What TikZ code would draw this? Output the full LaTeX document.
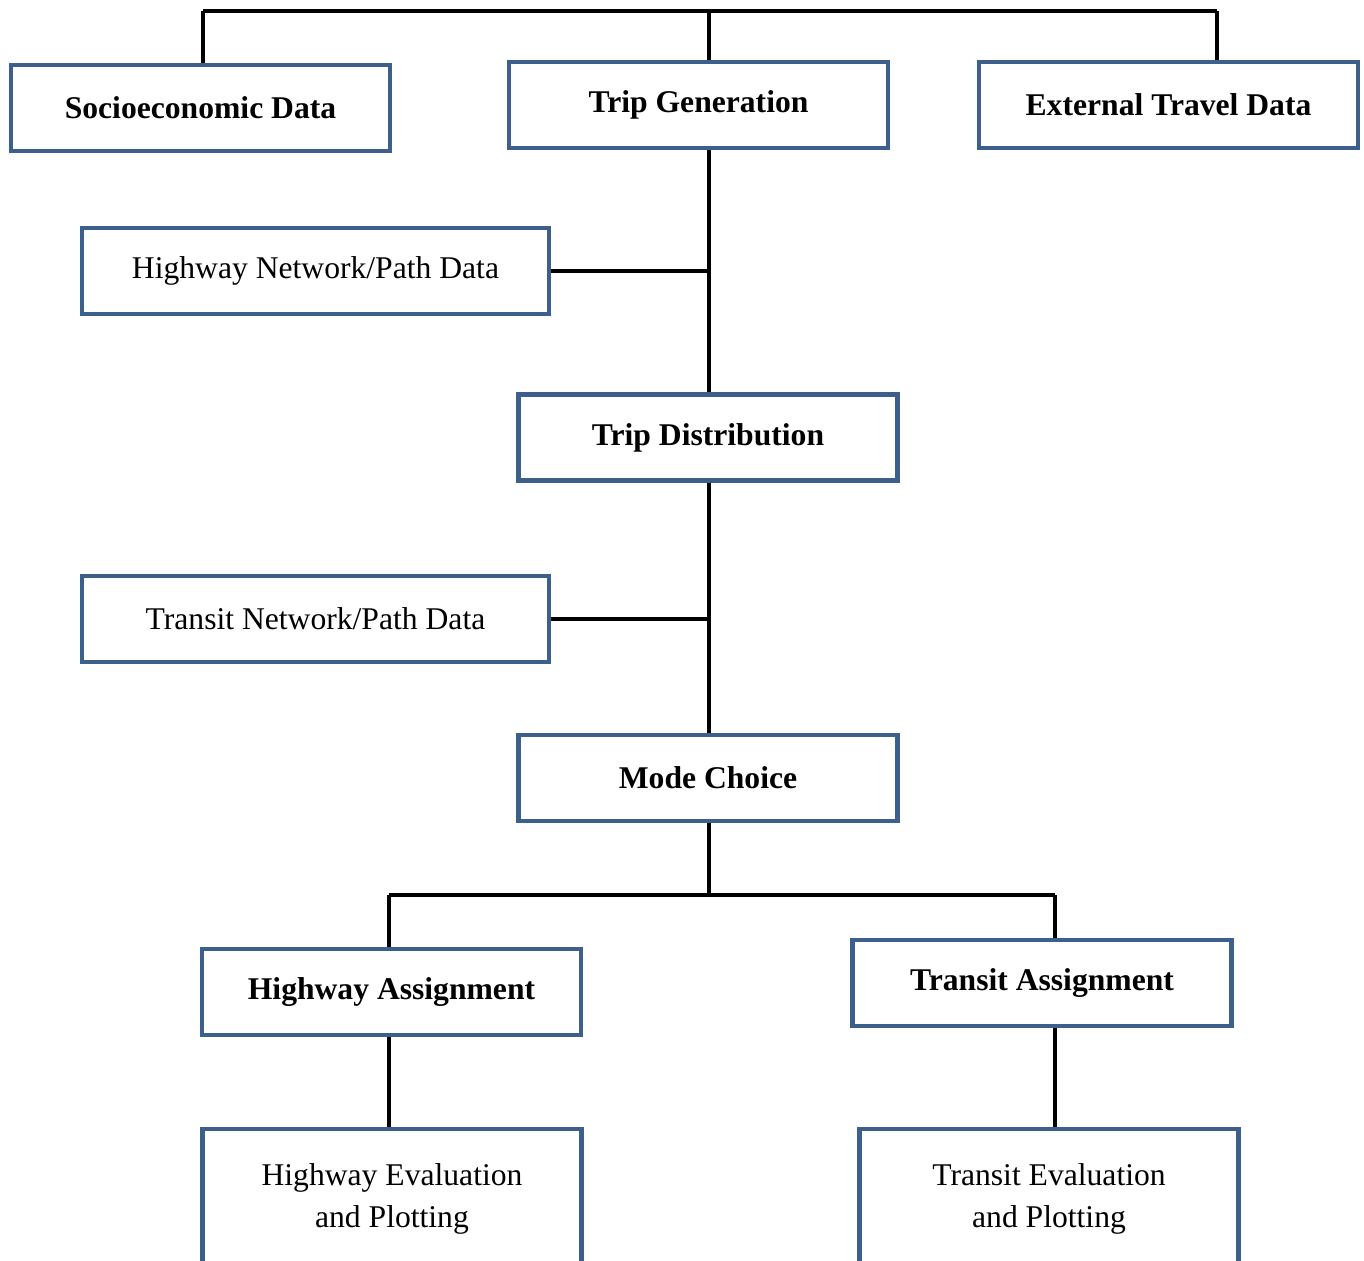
\documentclass[tikz,border=0pt]{standalone}
\usepackage{fontspec}
\setmainfont{Liberation Serif}
\usetikzlibrary{positioning,calc}
\definecolor{boxblue}{RGB}{60,95,140}

\begin{document}
\begin{tikzpicture}[
  x=0.02cm, y=-0.02cm,
  font=\fontsize{18}{24}\selectfont,
  box/.style={draw=boxblue, line width=2.4pt, align=center, inner sep=4pt,
    minimum width=7.58cm, minimum height=1.72cm, fill=white},
  stage/.style={box, font=\fontsize{18}{24}\selectfont\bfseries},
  wide/.style={box, minimum width=9.34cm},
  tall/.style={box, minimum height=2.8cm},
  link/.style={line width=2.1pt, black}
]
\useasboundingbox (0,0) rectangle (1364,1260);

\node[stage] (socio) at (200.5,108) {Socioeconomic Data};
\node[stage] (tgen) at (698.5,105) {Trip Generation};
\node[stage] (ext) at (1168.5,105) {External Travel Data};
\node[wide] (hnet) at (315.5,271) {Highway Network/Path Data};
\node[stage] (tdist) at (708,437.5) {Trip Distribution};
\node[wide] (tnet) at (315.5,619) {Transit Network/Path Data};
\node[stage] (mode) at (708,778) {Mode Choice};
\node[stage] (hassign) at (391.5,992) {Highway Assignment};
\node[stage] (tassign) at (1042,983) {Transit Assignment};
\node[tall] (heval) at (392,1199) {Highway Evaluation\\and Plotting};
\node[tall] (teval) at (1049,1199) {Transit Evaluation\\and Plotting};

% junctions
\coordinate (topL) at (203,11);
\coordinate (topM) at (709,11);
\coordinate (topR) at (1217,11);
\coordinate (splitL) at (389,895);
\coordinate (splitM) at (709,895);
\coordinate (splitR) at (1055,895);

\draw[link] (topL) -- (topR);
\draw[link] (topL) -- (topL |- socio.north);
\draw[link] (topM) -- (topM |- tgen.north);
\draw[link] (topR) -- (topR |- ext.north);

\draw[link] (topM |- tgen.south) -- (topM |- tdist.north);
\draw[link] (hnet.east) -- (hnet.east -| topM);
\draw[link] (topM |- tdist.south) -- (topM |- mode.north);
\draw[link] (tnet.east) -- (tnet.east -| topM);

\draw[link] (topM |- mode.south) -- (splitM);
\draw[link] (splitL) -- (splitR);
\draw[link] (splitL) -- (splitL |- hassign.north);
\draw[link] (splitR) -- (splitR |- tassign.north);
\draw[link] (splitL |- hassign.south) -- (splitL |- heval.north);
\draw[link] (splitR |- tassign.south) -- (splitR |- teval.north);

\end{tikzpicture}
\end{document}
